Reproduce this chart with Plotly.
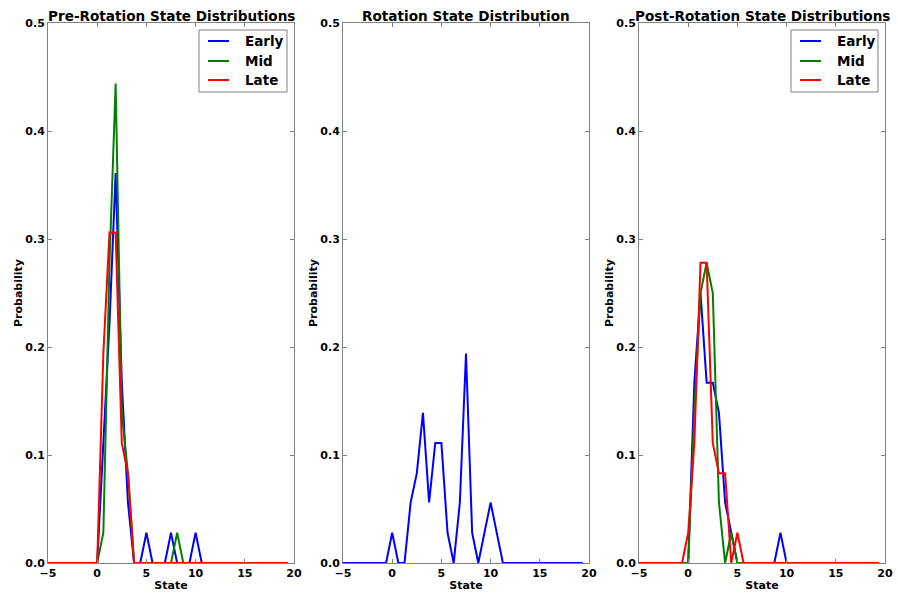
import plotly.graph_objects as go

# x grid of states (step 0.625 from -5)
states = [-5.0, -4.375, -3.75, -3.125, -2.5, -1.875, -1.25, -0.625,
          0.0, 0.625, 1.25, 1.875, 2.5, 3.125, 3.75, 4.375,
          5.0, 5.625, 6.25, 6.875, 7.5, 8.125, 8.75, 9.375,
          10.0, 10.625, 11.25, 11.875, 12.5, 13.125, 13.75, 14.375,
          15.0, 15.625, 16.25, 16.875, 17.5, 18.125, 18.75, 19.375]

Z8 = [0.0] * 8

# Pre-rotation
pre_early = Z8 + [0.0, 0.111, 0.222, 0.361, 0.167, 0.056, 0.0, 0.0,
                  0.028, 0.0, 0.0, 0.0, 0.028, 0.0, 0.0, 0.0,
                  0.028, 0.0, 0.0, 0.0, 0.0, 0.0, 0.0, 0.0] + [0.0] * 8
pre_mid = Z8 + [0.0, 0.028, 0.278, 0.444, 0.139, 0.083, 0.0, 0.0,
                0.0, 0.0, 0.0, 0.0, 0.0, 0.028, 0.0, 0.0,
                0.0, 0.0, 0.0, 0.0, 0.0, 0.0, 0.0, 0.0] + [0.0] * 8
pre_late = Z8 + [0.0, 0.194, 0.306, 0.306, 0.111, 0.083, 0.0, 0.0,
                 0.0, 0.0, 0.0, 0.0, 0.0, 0.0, 0.0, 0.0,
                 0.0, 0.0, 0.0, 0.0, 0.0, 0.0, 0.0, 0.0] + [0.0] * 8

# Rotation
rot_early = Z8 + [0.028, 0.0, 0.0, 0.056, 0.083, 0.139, 0.056, 0.111,
                  0.111, 0.028, 0.0, 0.056, 0.194, 0.028, 0.0, 0.028,
                  0.056, 0.028, 0.0, 0.0, 0.0, 0.0, 0.0, 0.0] + [0.0] * 8

# Post-rotation
post_early = Z8 + [0.0, 0.167, 0.25, 0.167, 0.167, 0.139, 0.056, 0.028,
                   0.0, 0.0, 0.0, 0.0, 0.0, 0.0, 0.0, 0.028,
                   0.0, 0.0, 0.0, 0.0, 0.0, 0.0, 0.0, 0.0] + [0.0] * 8
post_mid = Z8 + [0.0, 0.139, 0.25, 0.278, 0.25, 0.056, 0.0, 0.028,
                 0.0, 0.0, 0.0, 0.0, 0.0, 0.0, 0.0, 0.0,
                 0.0, 0.0, 0.0, 0.0, 0.0, 0.0, 0.0, 0.0] + [0.0] * 8
post_late = Z8 + [0.028, 0.111, 0.278, 0.278, 0.111, 0.083, 0.083, 0.0,
                  0.028, 0.0, 0.0, 0.0, 0.0, 0.0, 0.0, 0.0,
                  0.0, 0.0, 0.0, 0.0, 0.0, 0.0, 0.0, 0.0] + [0.0] * 8

titles = ["Pre-Rotation State Distributions", "Rotation State Distribution",
          "Post-Rotation State Distributions"]
series_names = ["Early", "Mid", "Late"]
colors = ["#0000ff", "#008000", "#ff0000"]

x_ticks = [-5, 0, 5, 10, 15, 20]
x_ticktext = ["\u22125", "0", "5", "10", "15", "20"]
y_ticks = [0.0, 0.1, 0.2, 0.3, 0.4, 0.5]
y_ticktext = ["0.0", "0.1", "0.2", "0.3", "0.4", "0.5"]

W, H = 898, 593
FONT = "DejaVu Sans"
panels_px = [(48, 294), (343, 589), (639, 885)]
top_px, bot_px = 23, 563
ydom = [1 - bot_px / H, 1 - top_px / H]

fig = go.Figure()

panel_data = [
    [pre_early, pre_mid, pre_late],
    [rot_early],
    [post_early, post_mid, post_late],
]

for p, series in enumerate(panel_data):
    suffix = "" if p == 0 else str(p + 1)
    for k, ys in enumerate(series):
        fig.add_trace(go.Scatter(
            x=states, y=ys, mode="lines",
            name=series_names[k],
            line=dict(color=colors[k], width=2),
            xaxis="x" + suffix, yaxis="y" + suffix,
            showlegend=False,
        ))

axis_common = dict(
    showgrid=False, zeroline=False, showline=True, linecolor="#808080",
    linewidth=1, mirror="ticks", ticks="inside", ticklen=4,
    tickcolor="#808080", tickfont=dict(family=FONT, size=11, color="black", weight="bold"),
)

layout = dict(
    width=W, height=H, plot_bgcolor="white", paper_bgcolor="white",
    margin=dict(l=0, r=0, t=0, b=0, autoexpand=False),
    font=dict(family=FONT, color="black"),
    showlegend=False,
)

annotations = []
shapes = []
for p, (l, r) in enumerate(panels_px):
    suffix = "" if p == 0 else str(p + 1)
    layout["xaxis" + suffix] = dict(
        axis_common, domain=[l / W, r / W], range=[-5, 20],
        tickvals=x_ticks, ticktext=x_ticktext,
        anchor="y" + suffix,
        title=dict(text="State", font=dict(family=FONT, size=11, weight="bold"), standoff=2),
    )
    layout["yaxis" + suffix] = dict(
        axis_common, domain=ydom, range=[0, 0.5],
        tickvals=y_ticks, ticktext=y_ticktext,
        anchor="x" + suffix,
        title=dict(text="Probability", font=dict(family=FONT, size=11, weight="bold"), standoff=0),
    )
    annotations.append(dict(
        text="<b>" + titles[p] + "</b>", xref="paper", yref="paper",
        x=(l + r) / 2 / W, y=ydom[1], xanchor="center", yanchor="bottom",
        yshift=-3,
        showarrow=False, font=dict(family=FONT, size=13.6, color="black"),
    ))

# legends (panels 1 and 3), drawn in paper coordinates
def px_x(v):
    return v / W

def px_y(v):
    return 1 - v / H

legend_boxes = [(199, 287), (791, 878)]
row_y = [41, 61, 80]
for (bl, br) in legend_boxes:
    shapes.append(dict(type="rect", xref="paper", yref="paper",
                       x0=px_x(bl), x1=px_x(br), y0=px_y(30), y1=px_y(92),
                       line=dict(color="#808080", width=1), fillcolor="white",
                       layer="above"))
    for k, name in enumerate(series_names):
        shapes.append(dict(type="line", xref="paper", yref="paper",
                           x0=px_x(bl + 9), x1=px_x(bl + 30),
                           y0=px_y(row_y[k]), y1=px_y(row_y[k]),
                           line=dict(color=colors[k], width=2), layer="above"))
        annotations.append(dict(
            text="<b>" + name + "</b>", xref="paper", yref="paper",
            x=px_x(bl + 44), y=px_y(row_y[k]), xanchor="left", yanchor="middle",
            showarrow=False, font=dict(family=FONT, size=13.5, color="black"),
        ))

layout["annotations"] = annotations
layout["shapes"] = shapes

fig.update_layout(**layout)
fig.write_html("out.html",
               config={"displayModeBar": False},
               post_script="document.body.style.margin='0';document.body.style.overflow='hidden';")
